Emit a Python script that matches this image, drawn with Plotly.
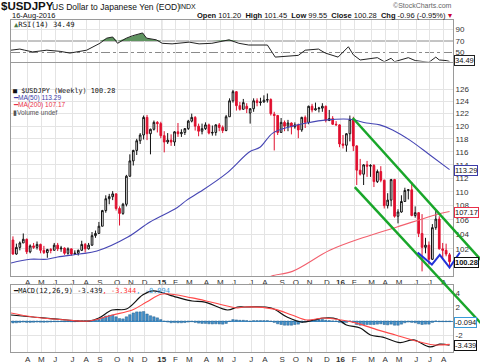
import math
import numpy as np
import pandas as pd
import plotly.graph_objects as go

W, H = 480, 363

# ---------------- data ----------------
dates = pd.date_range("2014-03-10", periods=128, freq="7D")

opens = [103.2, 101.3, 102.2, 102.8, 103.3, 101.6, 102.4, 102.2, 102.6, 101.8,
         101.5, 101.9, 101.8, 102.5, 102.0, 102.1, 101.4, 102.0, 101.3, 101.4,
         101.8, 102.6, 102.0, 102.5, 103.8, 104.1, 105.1, 107.3, 109.0, 109.3,
         109.7, 107.6, 106.9, 108.2, 112.3, 114.6, 116.2, 117.7, 118.6, 121.4,
         118.8, 119.5, 120.6, 120.4, 118.5, 117.5, 117.8, 117.5, 119.1, 118.8,
         119.0, 119.6, 120.8, 121.4, 120.0, 119.2, 119.6, 120.2, 118.9, 119.0,
         120.2, 119.8, 119.3, 121.5, 124.1, 125.6, 123.3, 122.7, 123.2, 122.1,
         122.8, 124.1, 123.8, 123.9, 124.2, 124.3, 121.9, 121.7, 119.0, 120.6,
         120.0, 120.5, 119.9, 120.2, 119.4, 121.4, 120.6, 123.2, 122.6, 122.8,
         122.9, 123.2, 120.9, 121.2, 120.3, 120.2, 117.2, 117.0, 118.8, 121.1,
         116.9, 113.2, 112.6, 114.0, 113.8, 113.9, 111.5, 113.0, 111.7, 108.0,
         108.8, 111.8, 106.5, 107.1, 108.6, 110.2, 110.3, 106.6, 107.0, 104.1,
         102.2, 102.5, 100.6, 104.9, 106.1, 102.0, 101.8, 101.20]
highs = [103.7, 102.7, 103.0, 104.1, 103.4, 102.6, 102.8, 103.0, 102.7, 102.4,
         102.0, 102.1, 102.8, 102.8, 102.4, 102.2, 102.2, 102.0, 101.8, 101.9,
         103.1, 102.8, 102.8, 104.3, 104.5, 105.7, 107.4, 109.5, 109.7, 110.1,
         109.8, 107.9, 108.4, 112.5, 115.6, 116.3, 118.0, 118.9, 121.7, 121.8,
         119.6, 120.9, 120.8, 120.7, 119.2, 118.9, 118.7, 119.2, 120.5, 119.5,
         119.7, 121.0, 122.0, 121.6, 120.4, 120.4, 120.6, 120.4, 120.1, 120.3,
         120.5, 120.1, 121.8, 124.5, 125.9, 125.7, 123.9, 124.4, 123.7, 122.9,
         124.5, 124.5, 124.6, 125.0, 125.3, 124.5, 122.3, 121.8, 121.3, 120.9,
         121.0, 120.6, 120.6, 120.4, 121.5, 121.7, 123.3, 123.6, 123.8, 123.1,
         123.7, 123.3, 122.6, 121.6, 120.8, 120.3, 118.6, 118.9, 121.7, 121.5,
         117.0, 114.9, 114.1, 114.6, 114.1, 114.1, 113.3, 113.8, 111.8, 109.8,
         111.9, 111.9, 107.5, 109.5, 110.6, 110.4, 111.4, 107.9, 107.1, 106.8,
         103.5, 103.0, 105.4, 107.5, 106.5, 102.8, 102.7, 101.45]
lows = [101.2, 101.2, 101.8, 102.8, 101.3, 101.4, 102.0, 101.9, 101.4, 101.3,
        100.8, 101.4, 101.8, 101.7, 101.6, 101.2, 101.2, 101.1, 101.2, 101.1,
        101.7, 101.5, 101.9, 102.4, 103.5, 104.1, 105.1, 107.0, 108.2, 108.8,
        107.3, 105.2, 106.7, 107.9, 112.2, 113.9, 115.5, 117.2, 117.9, 117.8,
        115.6, 119.3, 119.0, 118.1, 115.9, 117.2, 116.9, 116.9, 118.3, 118.3,
        118.6, 119.4, 120.6, 119.3, 118.4, 118.7, 119.4, 118.7, 118.5, 118.5,
        119.2, 118.9, 119.2, 121.5, 123.8, 122.5, 122.5, 122.7, 122.1, 120.4,
        122.3, 123.2, 123.3, 123.8, 123.8, 121.7, 116.2, 118.6, 119.0, 119.2,
        119.2, 118.7, 119.6, 118.1, 119.1, 119.7, 120.3, 122.2, 122.5, 122.2,
        122.3, 120.6, 120.8, 120.2, 120.1, 116.7, 116.5, 116.0, 117.6, 116.1,
        111.0, 112.4, 111.0, 112.2, 112.2, 110.7, 111.3, 111.4, 107.6, 107.6,
        107.9, 106.3, 105.5, 107.0, 108.6, 108.9, 106.5, 106.3, 103.6, 99.0,
        101.4, 99.9, 100.5, 104.6, 101.9, 100.7, 101.0, 99.55]
closes = [101.3, 102.2, 102.8, 103.3, 101.6, 102.4, 102.2, 102.6, 101.8, 101.5,
          101.9, 101.8, 102.5, 102.0, 102.1, 101.4, 102.0, 101.3, 101.4, 101.8,
          102.6, 102.0, 102.5, 103.8, 104.1, 105.1, 107.3, 109.0, 109.3, 109.7,
          107.6, 106.9, 108.2, 112.3, 114.6, 116.2, 117.7, 118.6, 121.4, 118.8,
          119.5, 120.6, 120.4, 118.5, 117.5, 117.8, 117.5, 119.1, 118.8, 119.0,
          119.6, 120.8, 121.4, 120.0, 119.2, 119.6, 120.2, 118.9, 119.0, 120.2,
          119.8, 119.3, 121.5, 124.1, 125.6, 123.3, 122.7, 123.8, 122.8, 122.8,
          124.1, 123.8, 123.9, 124.2, 124.3, 122.0, 121.7, 119.0, 120.6, 120.0,
          120.5, 119.9, 120.2, 119.4, 121.4, 120.6, 123.2, 122.6, 122.8, 122.9,
          123.2, 120.9, 121.2, 120.3, 120.2, 117.2, 117.0, 118.8, 121.1, 116.9,
          113.2, 112.6, 114.0, 113.8, 113.9, 111.5, 113.0, 111.7, 108.0, 108.8,
          111.8, 106.5, 107.1, 108.6, 110.2, 110.3, 106.6, 107.0, 104.1, 102.2,
          102.5, 100.6, 104.9, 106.1, 102.0, 101.8, 101.3, 100.28]

ma50_dates = ["2014-03-06", "2014-04-14", "2014-05-18", "2014-06-09", "2014-07-24",
              "2014-08-28", "2014-10-30", "2014-12-14", "2015-02-07", "2015-02-27",
              "2015-03-26", "2015-05-20", "2015-07-05", "2015-07-26", "2015-08-21",
              "2015-09-25", "2015-10-29", "2015-12-09", "2016-01-25", "2016-02-28",
              "2016-03-26", "2016-04-21", "2016-05-26", "2016-07-06", "2016-08-15"]
ma50_vals = [100.1, 100.6, 100.6, 100.9, 101.3, 101.7, 103.6, 105.7, 107.7, 108.8,
             110.0, 112.8, 116.0, 116.7, 118.9, 119.9, 120.5, 121.0, 121.1, 120.5,
             120.2, 119.4, 117.8, 115.5, 113.29]

ma200_dates = ["2015-08-05", "2015-08-19", "2015-09-30", "2015-12-15", "2016-02-20",
               "2016-04-30", "2016-07-27", "2016-08-15"]
ma200_vals = [97.9, 98.4, 99.0, 101.8, 103.5, 105.0, 106.9, 107.17]

rsi_dates = ["2014-03-06", "2014-03-24", "2014-04-03", "2014-04-19", "2014-05-18",
             "2014-06-14", "2014-07-04", "2014-07-24", "2014-08-07", "2014-09-03",
             "2014-09-17", "2014-09-29", "2014-10-09", "2014-10-27", "2014-11-08",
             "2014-11-29", "2014-12-07", "2014-12-27", "2015-01-08", "2015-01-28",
             "2015-03-04", "2015-03-24", "2015-04-19", "2015-05-24", "2015-06-13",
             "2015-07-03", "2015-08-10", "2015-08-26", "2015-09-22", "2015-10-12",
             "2015-10-26", "2015-11-22", "2015-12-06", "2016-01-01", "2016-01-22",
             "2016-02-01", "2016-02-15", "2016-02-22", "2016-03-07", "2016-03-21",
             "2016-04-04", "2016-04-18", "2016-04-25", "2016-05-16", "2016-05-23",
             "2016-06-06", "2016-06-20", "2016-07-04", "2016-07-18", "2016-07-25",
             "2016-08-08", "2016-08-15"]
rsi_vals = [54, 56, 54, 51, 54, 52, 49, 52, 54, 66,
            75, 77, 66, 75, 79, 84, 75, 72, 66, 65,
            68, 65, 66, 72, 66, 63, 63, 42, 44, 45,
            54, 56, 49, 42, 60, 46, 37, 38, 40, 41,
            34, 40, 34, 40, 41, 36, 34, 33, 42, 37,
            36, 34.49]

macd_dates = ["2014-03-06", "2014-04-20", "2014-06-28", "2014-08-12", "2014-09-01",
              "2014-09-28", "2014-10-27", "2014-11-29", "2014-12-20", "2015-02-06",
              "2015-03-10", "2015-04-05", "2015-05-21", "2015-06-10", "2015-06-24",
              "2015-08-18", "2015-09-19", "2015-10-18", "2015-11-13", "2015-12-03",
              "2015-12-30", "2016-01-18", "2016-02-15", "2016-03-07", "2016-04-01",
              "2016-05-06", "2016-06-02", "2016-07-06", "2016-07-26", "2016-08-15"]
macd_vals = [0.86, 0.57, 0.14, 0.0, 0.43, 1.57, 1.71, 3.7, 4.3, 3.4,
             2.86, 2.7, 1.57, 2.0, 2.0, 1.86, 0.57, -0.14, 0.14, 0.43,
             0.29, -0.57, -1.0, -2.0, -2.3, -3.1, -2.7, -3.7, -3.3, -3.439]

signal_dates = ["2014-03-06", "2014-04-20", "2014-06-28", "2014-08-12", "2014-09-28",
                "2014-11-08", "2014-12-07", "2015-01-08", "2015-03-10", "2015-04-23",
                "2015-06-10", "2015-06-24", "2015-08-24", "2015-09-29", "2015-10-30",
                "2015-12-03", "2016-01-08", "2016-02-08", "2016-03-23", "2016-04-27",
                "2016-06-08", "2016-07-12", "2016-08-15"]
signal_vals = [1.14, 0.57, 0.14, 0.0, 0.86, 1.57, 2.7, 3.86, 3.3, 2.6,
               1.86, 2.0, 1.7, 0.86, 0.14, 0.43, 0.14, -0.3, -1.3, -2.0,
               -2.86, -3.4, -3.344]

hist_vals = [-0.28, -0.25, -0.2, -0.15, -0.2, -0.2, -0.18, -0.15, -0.17, -0.18,
             -0.16, -0.14, -0.1, -0.1, -0.08, -0.1, -0.08, -0.1, -0.1, -0.08,
             -0.03, -0.03, 0.0, 0.08, 0.12,
             0.25, 0.45, 0.7, 0.8, 0.85,
             0.6, 0.35, 0.3, 0.6,
             0.9, 1.15, 1.3, 1.3,
             1.35, 1.0, 0.75, 0.6, 0.45,
             0.2, -0.05, -0.15, -0.25,
             -0.22, -0.25, -0.25, -0.22,
             -0.15, -0.1, -0.2, -0.3, -0.35,
             -0.35, -0.4, -0.42, -0.4,
             -0.42, -0.45, -0.35, -0.05,
             0.2, 0.15, 0.1, 0.1, 0.05,
             -0.05, 0.05, 0.05, 0.05,
             0.05, 0.05, -0.05, -0.2, -0.4,
             -0.5, -0.6, -0.6, -0.6,
             -0.5, -0.45, -0.2, -0.1,
             0.1, 0.15, 0.18, 0.2, 0.22,
             0.1, 0.05, 0.0, -0.05,
             -0.2, -0.3, -0.2, 0.0,
             -0.2, -0.5, -0.6, -0.55, -0.5,
             -0.5, -0.5, -0.45, -0.4,
             -0.5, -0.55, -0.45, -0.6,
             -0.6, -0.45, -0.25, -0.15, -0.2,
             -0.25, -0.4, -0.5, -0.45,
             -0.45, -0.2, 0.0, -0.1,
             -0.1, -0.1, -0.094]

# trend-line annotations (date, price)
chan_upper_dates = ["2016-01-31", "2016-06-11"]
chan_upper_prices = [121.3, 110.3]
chan_lower_dates = ["2016-02-04", "2016-08-16"]
chan_lower_prices = [110.7, 96.6]
zig_dates = ["2016-06-11", "2016-07-10", "2016-07-26", "2016-08-15", "2016-09-05"]
zig_prices = [101.5, 99.9, 101.2, 99.5, 101.5]

# ---------------- geometry ----------------
PX_L, PX_R = 11, 453
RSI_T, RSI_B = 20, 61.5
MAIN_T, MAIN_B = 62.5, 276
MACD_T, MACD_B = 285, 352

def fx(p):
    return p / W

def fy(p):
    return 1 - p / H

X0 = pd.Timestamp("2014-03-06")
X1 = pd.Timestamp("2016-08-22")
xdom = [fx(PX_L), fx(PX_R)]

PPL = 755.0
ylo = math.log10(126) - (MAIN_B - 89.3) / PPL / math.log(10)
yhi = math.log10(126) + (89.3 - MAIN_T) / PPL / math.log(10)
main_dom = [fy(MAIN_B), fy(MAIN_T)]

rsi_lo = 50 - (RSI_B - 52.5) / 0.575
rsi_hi = 50 + (52.5 - RSI_T) / 0.575
macd_lo = -(MACD_B - 321) / 7.0
macd_hi = (321 - MACD_T) / 7.0

span = (X1 - X0)
fx0 = X0 - span * (xdom[0] / (xdom[1] - xdom[0]))
fx1 = X1 + span * ((1 - xdom[1]) / (xdom[1] - xdom[0]))
lspan = yhi - ylo
fy0 = ylo - lspan * (main_dom[0] / (main_dom[1] - main_dom[0]))
fy1 = yhi + lspan * ((1 - main_dom[1]) / (main_dom[1] - main_dom[0]))

def extend(d, p, xend_date):
    t = [pd.Timestamp(v).value for v in d]
    lp = [math.log10(v) for v in p]
    te = pd.Timestamp(xend_date).value
    le = lp[0] + (lp[1] - lp[0]) * (te - t[0]) / (t[1] - t[0])
    return [d[0], str(pd.Timestamp(xend_date).date())], [p[0], 10 ** le]

tick_vals, tick_text = [], []
letters = "JFMAMJJASOND"
prev = None
for d in dates:
    key = (d.year, d.month)
    if key != prev:
        if prev is not None:
            tick_vals.append(d + pd.Timedelta(days=2))
            if d.month == 1:
                tick_text.append("<b>%02d</b>" % (d.year % 100))
            else:
                tick_text.append(letters[d.month - 1])
        prev = key
year_lines = [v for v, t in zip(tick_vals, tick_text) if t.startswith("<b>")]

GRID = "#e4e4e4"
BORDER = "#9a9a9a"
TICKF = dict(family="Liberation Sans, Arial", size=8, color="#333")
RED = "#e0102f"

fig = go.Figure()

fig.add_trace(go.Scatter(x=rsi_dates, y=[70] * len(rsi_dates), mode="lines",
                         line=dict(width=0), xaxis="x", yaxis="y", hoverinfo="skip"))
fig.add_trace(go.Scatter(x=rsi_dates, y=list(np.maximum(np.array(rsi_vals, float), 70)),
                         mode="lines", line=dict(width=0), fill="tonexty",
                         fillcolor="#5f9460", xaxis="x", yaxis="y", hoverinfo="skip"))
fig.add_trace(go.Scatter(x=rsi_dates, y=rsi_vals, mode="lines",
                         line=dict(color="#222", width=1), xaxis="x", yaxis="y"))

fig.add_trace(go.Candlestick(x=dates, open=opens, high=highs, low=lows, close=closes,
                             xaxis="x2", yaxis="y2", whiskerwidth=0,
                             increasing=dict(line=dict(color="#111", width=1), fillcolor="white"),
                             decreasing=dict(line=dict(color=RED, width=1), fillcolor=RED)))
fig.add_trace(go.Scatter(x=ma50_dates, y=ma50_vals, mode="lines", line_shape="spline",
                         line=dict(color="#4646b4", width=1.1), xaxis="x2", yaxis="y2"))
fig.add_trace(go.Scatter(x=ma200_dates, y=ma200_vals, mode="lines", line_shape="spline",
                         line=dict(color="#f2606e", width=1.1), xaxis="x2", yaxis="y2"))

fig.add_trace(go.Bar(x=dates, y=hist_vals, width=5 * 86400000,
                     marker=dict(color="#3f8fca", line=dict(color="#2a628f", width=0.5)),
                     xaxis="x3", yaxis="y3"))
fig.add_trace(go.Scatter(x=macd_dates, y=macd_vals, mode="lines", line_shape="spline",
                         line=dict(color="#111", width=1.2), xaxis="x3", yaxis="y3"))
fig.add_trace(go.Scatter(x=signal_dates, y=signal_vals, mode="lines", line_shape="spline",
                         line=dict(color="#ff4848", width=1.1), xaxis="x3", yaxis="y3"))

ux, uy = extend(chan_upper_dates, chan_upper_prices, "2016-10-20")
lx, ly = extend(chan_lower_dates, chan_lower_prices, "2016-10-20")
fig.add_trace(go.Scatter(x=ux, y=uy, mode="lines", line=dict(color="#19a62a", width=2.5),
                         xaxis="x4", yaxis="y4"))
fig.add_trace(go.Scatter(x=lx, y=ly, mode="lines", line=dict(color="#19a62a", width=2.5),
                         xaxis="x4", yaxis="y4"))
fig.add_trace(go.Scatter(x=zig_dates, y=zig_prices, mode="lines",
                         line=dict(color="#2233d8", width=2), xaxis="x4", yaxis="y4"))

xcommon = dict(domain=xdom, range=[X0, X1], tickvals=tick_vals, ticktext=tick_text,
               showgrid=True, gridcolor=GRID, gridwidth=1, showline=True, linecolor=BORDER,
               mirror=True, ticks="", ticklen=0, tickfont=TICKF, zeroline=False, fixedrange=True)
ycommon = dict(side="right", showline=True, linecolor=BORDER, mirror=True, ticks="", ticklen=0,
               tickfont=TICKF, fixedrange=True)

fig.update_layout(
    width=W, height=H, margin=dict(l=0, r=0, t=0, b=0),
    paper_bgcolor="white", plot_bgcolor="rgba(0,0,0,0)", showlegend=False,
    xaxis=dict(xcommon, anchor="y", showticklabels=False),
    yaxis=dict(ycommon, domain=[fy(RSI_B), fy(RSI_T)], range=[rsi_lo, rsi_hi],
               tickvals=[50, 70, 90], showgrid=False, zeroline=False),
    xaxis2=dict(xcommon, anchor="y2", rangeslider=dict(visible=False), ticklabelstandoff=-2),
    yaxis2=dict(ycommon, domain=main_dom, type="log", range=[ylo, yhi],
                tickvals=list(range(102, 128, 2)), showgrid=True, gridcolor=GRID),
    xaxis3=dict(xcommon, anchor="y3", ticklabelstandoff=-1),
    yaxis3=dict(ycommon, domain=[fy(MACD_B), fy(MACD_T)], range=[macd_lo, macd_hi],
                tickvals=[-2, 2, 4], ticktext=["-2", "2", "4"], showgrid=True, gridcolor=GRID,
                zeroline=True, zerolinecolor="#3f8fca", zerolinewidth=1),
    xaxis4=dict(domain=[0, 1], anchor="y4", range=[fx0, fx1], visible=False, fixedrange=True),
    yaxis4=dict(domain=[0, 1], anchor="x4", type="log", range=[fy0, fy1], visible=False,
                fixedrange=True),
    bargap=0,
)

shapes = []
for yv, dash, col in [(70, "solid", "#8a8a8a"), (50, "dashdot", "#8a8a8a"), (90, "solid", GRID)]:
    shapes.append(dict(type="line", xref="x domain", yref="y", x0=0, x1=1, y0=yv, y1=yv,
                       line=dict(color=col, width=1, dash=dash), layer="below"))
for yl in year_lines:
    for xr, yr in [("x", "y domain"), ("x2", "y2 domain"), ("x3", "y3 domain")]:
        shapes.append(dict(type="line", xref=xr, yref=yr, x0=yl, x1=yl, y0=0, y1=1,
                           line=dict(color="#b4b4b4", width=1), layer="below"))
fig.update_layout(shapes=shapes)

ann = []
def txt(x, y, s, size=8, color="#111", family="Liberation Sans, Arial", xanchor="left", **kw):
    ann.append(dict(x=fx(x), y=fy(y), xref="paper", yref="paper", text=s, showarrow=False,
                    xanchor=xanchor, yanchor="middle", borderpad=0,
                    font=dict(size=size, color=color, family=family), **kw))

txt(0, 6, "<b>$USDJPY</b>", size=11.5)
txt(51, 6.5, "US Dollar to Japanese Yen (EOD)", size=8.5)
txt(178, 6.5, "INDX", size=7)
txt(453, 6, "©StockCharts.com", size=7, color="#666", xanchor="right")
txt(11, 15.5, "16-Aug-2016", size=7.5)
txt(453, 15.5, "<b>Open</b> 101.20  <b>High</b> 101.45  <b>Low</b> 99.55  <b>Close</b> 100.28  "
               "<b>Chg</b> -0.96 (-0.95%) <span style='color:#cc0033'>▾</span>",
    size=7.5, xanchor="right")

MONO = "DejaVu Sans Mono, monospace"
txt(13, 24.5, "<span style='color:#4a7a4a'>▲</span>RSI(14) 34.49", size=7.2, family=MONO)
txt(12, 91, "■ $USDJPY (Weekly) 100.28", size=6.8, family=MONO)
txt(12, 98, "<span style='color:#3c3ca8'>━</span>MA(50) 113.29", size=6.6, color="#3c3ca8")
txt(12, 105.3, "<span style='color:#e8304a'>━</span>MA(200) 107.17", size=6.6, color="#e8304a")
txt(12, 112.3, "▮Volume undef", size=6.6, color="#555")
txt(12, 290.5, "━MACD(12,26,9) -3.439<span style='color:#ff3030'>, -3.344</span>"
               "<span style='color:#3a9ad8'>, -0.094</span>", size=7, family=MONO)

def box(y_px, s, col, bold=False):
    ann.append(dict(x=fx(454), y=fy(y_px), xref="paper", yref="paper",
                    text=("<b>%s</b>" % s) if bold else s, showarrow=False,
                    xanchor="left", yanchor="middle", bgcolor="white", bordercolor=col,
                    borderwidth=1, borderpad=0,
                    font=dict(size=7.5, color="#111", family="Liberation Sans, Arial")))

box(60, "34.49", "#222")
box(170, "113.29", "#3c3ca8")
box(212, "107.17", "#e8304a")
box(262, "100.28", "#111", bold=True)
box(322, "-0.094", "#3a9ad8")
box(345, "-3.439", "#111")

fig.update_layout(annotations=ann)
fig.write_html("out.html", config={"displayModeBar": False, "staticPlot": True},
               post_script="document.body.style.margin='0';document.body.style.overflow='hidden';")
